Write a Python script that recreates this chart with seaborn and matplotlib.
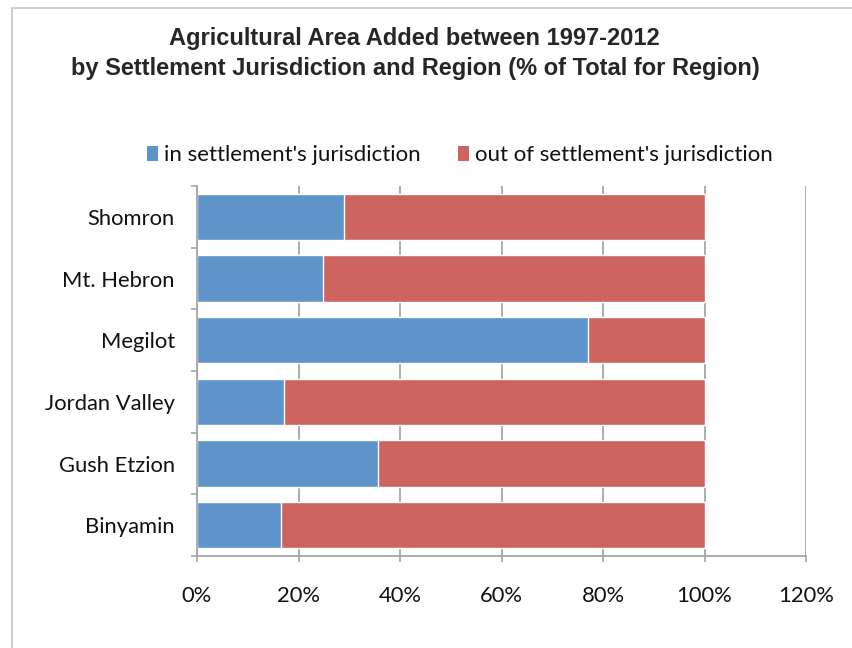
import matplotlib
matplotlib.use("Agg")
import matplotlib.pyplot as plt
from matplotlib.patches import Patch, Rectangle
from matplotlib.ticker import PercentFormatter, FixedLocator
import pandas as pd
import seaborn as sns

# data (share of region total)
regions = ["Shomron", "Mt. Hebron", "Megilot", "Jordan Valley", "Gush Etzion", "Binyamin"]
in_jurisdiction = [0.29, 0.248, 0.77, 0.171, 0.356, 0.166]
total = [1.0, 1.0, 1.0, 1.0, 1.0, 1.0]
series_names = ["in settlement's jurisdiction", "out of settlement's jurisdiction"]
x_ticks = [0, 0.2, 0.4, 0.6, 0.8, 1.0, 1.2]

blue = "#5E94C9"
red = "#CD645F"
grey = "#A6A6A6"
text_col = "#111111"

df = pd.DataFrame({"region": regions, "inside": in_jurisdiction, "total": total})

sns.set_theme(style="white")
plt.rcParams["font.family"] = ["Lato", "DejaVu Sans"]

fig = plt.figure(figsize=(8.52, 6.48), dpi=100)
ax = fig.add_axes([197 / 852, 1 - 556 / 648, 609 / 852, 370 / 648])

# full bar (red) then the in-jurisdiction share on top (blue)
sns.barplot(data=df, x="total", y="region", color=red, width=0.75,
            orient="h", ax=ax, saturation=1)
sns.barplot(data=df, x="inside", y="region", color=blue, width=0.75,
            orient="h", ax=ax, saturation=1)

ax.set_xlim(0, 1.2)
ax.set_ylim(5.5, -0.5)
ax.xaxis.set_major_locator(FixedLocator(x_ticks))
ax.xaxis.set_major_formatter(PercentFormatter(xmax=1, decimals=0))
ax.set_xlabel("")
ax.set_ylabel("")

ax.set_axisbelow(True)
ax.xaxis.grid(True, color=grey, linewidth=1.3)
ax.yaxis.grid(False)

for side in ["top", "right"]:
    ax.spines[side].set_visible(False)
for side in ["left", "bottom"]:
    ax.spines[side].set_color(grey)
    ax.spines[side].set_linewidth(1.3)

ax.yaxis.set_minor_locator(FixedLocator([i - 0.5 for i in range(len(regions) + 1)]))
ax.tick_params(axis="y", which="major", length=0, pad=16, labelsize=15.8, labelcolor=text_col)
ax.tick_params(axis="y", which="minor", left=True, length=4.5, width=1.2, color=grey, direction="out")
ax.tick_params(axis="x", which="major", bottom=True, length=4.5, width=1.2, color=grey,
               direction="out", pad=17, labelsize=15.8, labelcolor=text_col)

# legend above the plot
handles = [Patch(facecolor=blue, edgecolor="none"), Patch(facecolor=red, edgecolor="none")]
fig.legend(handles, series_names, loc="center", bbox_to_anchor=(460 / 852, 1 - 155 / 648),
           ncol=2, frameon=False, fontsize=16, handlelength=0.5, handleheight=0.65,
           handletextpad=0.25, columnspacing=1.7, labelcolor=text_col)

# title
fig.text(414 / 852, 1 - 38 / 648, "Agricultural Area Added between 1997-2012",
         ha="center", va="center", fontsize=17, fontweight="bold", family="Liberation Sans")
fig.text(415 / 852, 1 - 68 / 648, "by Settlement Jurisdiction and Region (% of Total for Region)",
         ha="center", va="center", fontsize=17, fontweight="bold", family="Liberation Sans")

# outer frame of the original chart
fig.patches.append(Rectangle((12 / 852, -0.1), 1.2, 1 - 8 / 648 + 0.1, transform=fig.transFigure,
                             fill=False, edgecolor="#CFCFCF", linewidth=1.5))

fig.savefig("out.png", dpi=100, facecolor="white")
